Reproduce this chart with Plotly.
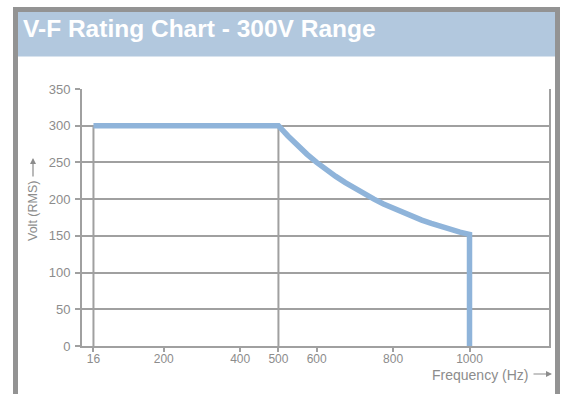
import plotly.graph_objects as go

# ---- data ----
freq_hz = [16, 500, 525, 550, 575, 600, 625, 650, 675, 700, 725, 750, 775,
           800, 825, 850, 875, 900, 925, 950, 975, 1000, 1000]
volt_rms = [300, 300, 286, 273, 261, 250, 240, 231, 222.5, 214.5, 207, 200,
            193.5, 187.5, 182, 176.5, 171.5, 167, 162.5, 158.5, 155, 152, 0]

drop_freq = [16, 500, 1000]
drop_volt = [300, 300, 152]

x_tick_vals = [16, 200, 400, 500, 600, 800, 1000]
x_tick_text = ["16", "200", "400", "500", "600", "800", "1000"]
y_tick_vals = [0, 50, 100, 150, 200, 250, 300, 350]
y_grid_vals = [50, 100, 150, 200, 250, 300]

title_text = "V-F Rating Chart - 300V Range"
x_title = "Frequency (Hz)"
y_title = "Volt (RMS)"

# ---- styling ----
W, H = 563, 394
L, R, T, B = 82, 549, 89, 346
FONT = "Arial, Liberation Sans, sans-serif"
GRID = "#a0a0a0"
TXT = "#8c8c8c"
BLUE = "#8fb4da"
BORDER = "#939393"
BAR = "#b2c8de"


def px(x):
    return (x - L) / (R - L)


def py(y):
    return (B - y) / (B - T)


fig = go.Figure()

# drop lines (gray verticals)
for f, v in zip(drop_freq, drop_volt):
    fig.add_trace(go.Scatter(x=[f, f], y=[0, v], mode="lines",
                             line=dict(color=GRID, width=2),
                             hoverinfo="skip", showlegend=False))

# rating curve
fig.add_trace(go.Scatter(x=freq_hz, y=volt_rms, mode="lines",
                         line=dict(color=BLUE, width=5.5),
                         showlegend=False))

# invisible trace on y2 to carry horizontal grid
fig.add_trace(go.Scatter(x=[freq_hz[0]], y=[0], yaxis="y2", mode="markers",
                         marker=dict(opacity=0), showlegend=False,
                         hoverinfo="skip"))

shapes = [
    dict(type="rect", xref="paper", yref="paper", layer="below",
         x0=px(13), x1=px(560), y0=py(7), y1=py(400),
         fillcolor=BORDER, line=dict(width=0)),
    dict(type="rect", xref="paper", yref="paper", layer="below",
         x0=px(18), x1=px(555), y0=py(12), y1=py(400),
         fillcolor="white", line=dict(width=0)),
    dict(type="rect", xref="paper", yref="paper", layer="below",
         x0=px(18), x1=px(555), y0=py(12), y1=py(56.5),
         fillcolor=BAR, line=dict(width=0)),
]

annotations = [
    dict(text="<b>" + title_text + "</b>", xref="paper", yref="paper",
         x=px(21), y=py(29), xanchor="left", yanchor="middle",
         showarrow=False, font=dict(family=FONT, size=24.5, color="white")),
    dict(text=x_title, xref="paper", yref="paper",
         x=px(530), y=py(374.5), xanchor="right", yanchor="middle",
         showarrow=False, font=dict(family=FONT, size=14, color=TXT)),
    dict(text="", xref="paper", yref="paper", x=px(552), y=py(374),
         ax=-20, ay=0, showarrow=True, arrowhead=2, arrowsize=1,
         arrowwidth=1.2, arrowcolor=TXT),
    dict(text=y_title, xref="paper", yref="paper",
         x=px(33), y=py(211), xanchor="center", yanchor="middle",
         textangle=-90, showarrow=False,
         font=dict(family=FONT, size=12.5, color=TXT)),
    dict(text="", xref="paper", yref="paper", x=px(33), y=py(158),
         ax=0, ay=20, showarrow=True, arrowhead=2, arrowsize=1,
         arrowwidth=1.2, arrowcolor=TXT),
]

fig.update_layout(
    width=W, height=H,
    margin=dict(l=L, r=W - R, t=T, b=H - B, pad=0),
    paper_bgcolor="white",
    plot_bgcolor="rgba(0,0,0,0)",
    showlegend=False,
    shapes=shapes,
    annotations=annotations,
    xaxis=dict(range=[-14, 1208], tickvals=x_tick_vals, ticktext=x_tick_text,
               showgrid=False, zeroline=False, showline=True,
               linecolor=GRID, linewidth=2, ticks="outside", ticklen=4,
               tickwidth=1.5, tickcolor=GRID, ticklabelstandoff=-3,
               tickfont=dict(family=FONT, size=12, color=TXT)),
    yaxis=dict(range=[0, 350], tickvals=y_tick_vals, showgrid=False,
               zeroline=False, showline=True, mirror=True,
               linecolor=GRID, linewidth=2, ticks="outside", ticklen=5,
               tickwidth=1.5, tickcolor=GRID, ticklabelstandoff=2,
               tickfont=dict(family=FONT, size=13, color=TXT)),
    yaxis2=dict(range=[0, 350], overlaying="y", tickvals=y_grid_vals,
                showgrid=True, gridcolor=GRID, gridwidth=2,
                showticklabels=False, zeroline=False, showline=False),
)

fig.write_html("out.html",
               config={"displayModeBar": False},
               post_script="document.body.style.margin='0';"
                           "document.body.style.overflow='hidden';")
